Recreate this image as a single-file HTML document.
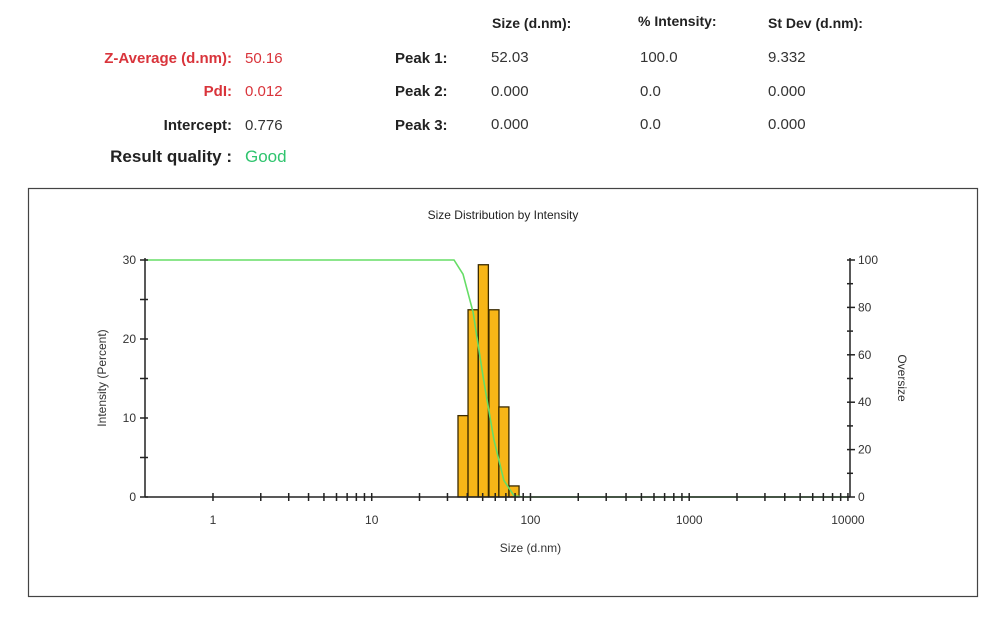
<!DOCTYPE html>
<html><head><meta charset="utf-8"><style>
body{margin:0;width:1000px;height:618px;background:#fff;font-family:"Liberation Sans",Arial,sans-serif;overflow:hidden;position:relative}
.t{position:absolute;font-size:15px;white-space:nowrap;color:#333}
.b{font-weight:bold;color:#222}
.r{color:#d9343b}
.rt{text-align:right}
</style></head><body>
<div class="t b r rt" style="right:768px;top:50px">Z-Average (d.nm):</div>
<div class="t r" style="left:245px;top:50px">50.16</div>
<div class="t b r rt" style="right:768px;top:83px">PdI:</div>
<div class="t r" style="left:245px;top:83px">0.012</div>
<div class="t b rt" style="right:768px;top:117px">Intercept:</div>
<div class="t" style="left:245px;top:117px">0.776</div>
<div class="t b rt" style="right:768px;top:147px;font-size:17px">Result quality :</div>
<div class="t" style="left:245px;top:147px;font-size:17px;color:#2fc46e">Good</div>

<div class="t b" style="left:492px;top:15px;font-size:14px">Size (d.nm):</div>
<div class="t b" style="left:638px;top:13px;font-size:14px">% Intensity:</div>
<div class="t b" style="left:768px;top:15px;font-size:14px">St Dev (d.nm):</div>
<div class="t b" style="left:395px;top:50px">Peak 1:</div>
<div class="t b" style="left:395px;top:83px">Peak 2:</div>
<div class="t b" style="left:395px;top:117px">Peak 3:</div>
<div class="t" style="left:491px;top:49px">52.03</div>
<div class="t" style="left:491px;top:83px">0.000</div>
<div class="t" style="left:491px;top:116px">0.000</div>
<div class="t" style="left:640px;top:49px">100.0</div>
<div class="t" style="left:640px;top:83px">0.0</div>
<div class="t" style="left:640px;top:116px">0.0</div>
<div class="t" style="left:768px;top:49px">9.332</div>
<div class="t" style="left:768px;top:83px">0.000</div>
<div class="t" style="left:768px;top:116px">0.000</div>

<svg id="chart" width="1000" height="618" style="position:absolute;left:0;top:0" font-family="Liberation Sans, Arial, sans-serif"></svg>
<script>
const binSizes=[37.6,43.5,50.5,58.9,68,78.8];
const binIntensity=[10.3,23.7,29.4,23.7,11.4,1.4];
const oversizeSizes=[0.373,33,37.6,43.5,50.5,58.9,68,78.8,90,10000];
const oversizeValues=[100,100,94,78,50,24,7,0.5,0,0];
const xTickLabels=["1","10","100","1000","10000"];
const yLeftTicks=[0,10,20,30];
const yRightTicks=[0,20,40,60,80,100];

const svg=document.getElementById('chart');
const NS='http://www.w3.org/2000/svg';
const X0=145,X1=850,Y0=497,Y1=260;
const LMIN=Math.log10(0.373),LMAX=Math.log10(10000)+0.013;
function xs(v){return X0+(Math.log10(v)-LMIN)/(LMAX-LMIN)*(X1-X0);}
function yl(v){return Y0-v/30*(Y0-Y1);}
function yr(v){return Y0-v/100*(Y0-Y1);}
function mk(tag,attrs,parent){const e=document.createElementNS(NS,tag);for(const k in attrs)e.setAttribute(k,attrs[k]);(parent||svg).appendChild(e);return e;}
function txt(s,attrs){const e=mk('text',attrs);e.textContent=s;return e;}

const frame=mk('rect',{x:28.5,y:188.5,width:949,height:408,fill:'none',stroke:'#444','stroke-width':1.2});


const title=txt('Size Distribution by Intensity',{x:503,y:219,'text-anchor':'middle','font-size':12,fill:'#222'});



// bars
const hw=(Math.log10(binSizes[1])-Math.log10(binSizes[0]))/2;
binSizes.forEach((s,i)=>{
  const l=xs(Math.pow(10,Math.log10(s)-hw)),r=xs(Math.pow(10,Math.log10(s)+hw));
  const b=mk('rect',{x:l,y:yl(binIntensity[i]),width:r-l,height:Y0-yl(binIntensity[i]),fill:'#f7b617',stroke:'#3a2a00','stroke-width':1.3});
  
  
});
// oversize line
const pts=oversizeSizes.map((s,i)=>xs(s)+','+yr(oversizeValues[i])).join(' ');
const ln=mk('polyline',{points:pts,fill:'none',stroke:'#66dd66','stroke-width':1.6});



// axes
const ax=mk('g',{stroke:'#222','stroke-width':1.5});


mk('line',{x1:X0,y1:Y1-2,x2:X0,y2:Y0},ax);
mk('line',{x1:X0,y1:Y0,x2:X1,y2:Y0},ax);
mk('line',{x1:X1,y1:Y1-2,x2:X1,y2:Y0},ax);
for(let v=0;v<=30;v+=5)mk('line',{x1:X0-5,y1:yl(v),x2:X0+3,y2:yl(v)},ax);
for(let v=0;v<=100;v+=10)mk('line',{x1:X1-3,y1:yr(v),x2:X1+(v%20==0?5:3),y2:yr(v)},ax);
for(let d=0;d<=3;d++)for(let m=1;m<=9;m++){const v=m*Math.pow(10,d);mk('line',{x1:xs(v),y1:Y0-4,x2:xs(v),y2:Y0+4},ax);}
mk('line',{x1:xs(10000),y1:Y0-4,x2:xs(10000),y2:Y0+4},ax);
yLeftTicks.forEach(v=>{const t=txt(String(v),{x:X0-9,y:yl(v)+4,'text-anchor':'end','font-size':12,fill:'#333'});});
yRightTicks.forEach(v=>{const t=txt(String(v),{x:X1+8,y:yr(v)+4,'font-size':12,fill:'#333'});});
xTickLabels.forEach(s=>{const t=txt(s,{x:xs(+s),y:Y0+27,'text-anchor':'middle','font-size':12,fill:'#333'});});
const xt=txt('Size (d.nm)',{x:xs(100),y:552,'text-anchor':'middle','font-size':12,fill:'#333'});


const yt=txt('Intensity (Percent)',{x:0,y:0,'text-anchor':'middle','font-size':12,fill:'#333',transform:'translate(106,378) rotate(-90)'});


const yt2=txt('Oversize',{x:0,y:0,'text-anchor':'middle','font-size':12,fill:'#333',transform:'translate(898,378) rotate(90)'});


</script>
</body></html>
